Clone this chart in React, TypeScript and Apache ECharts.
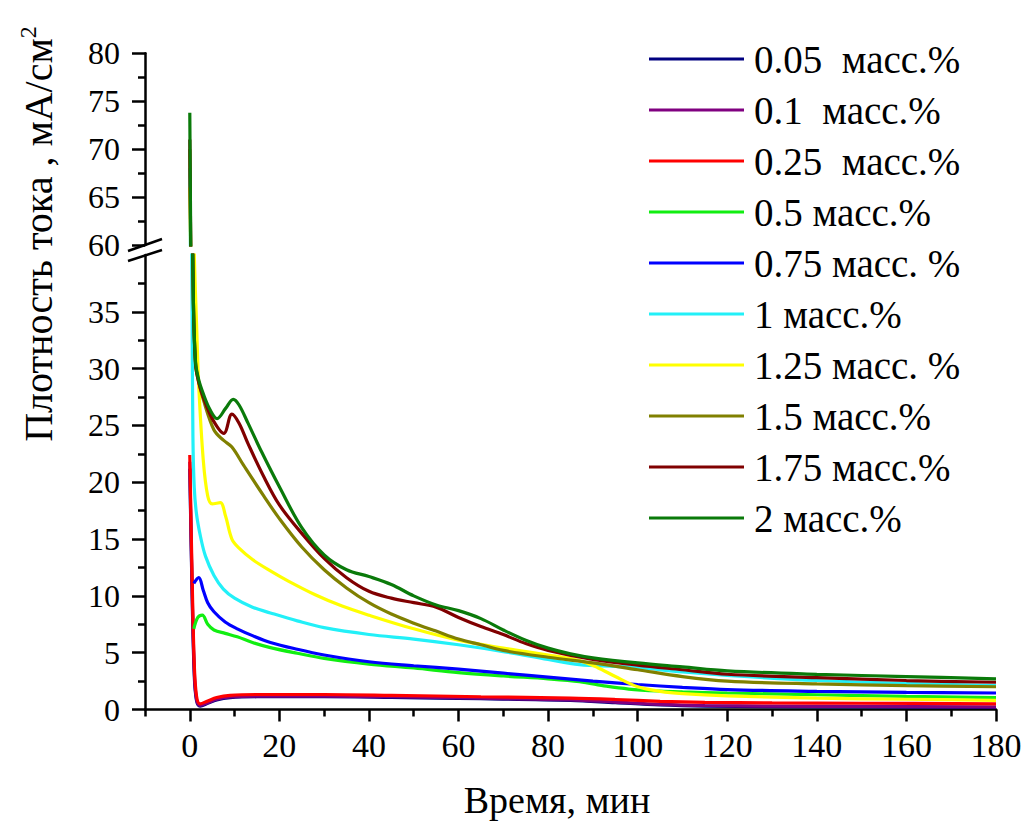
import React, { useEffect, useRef } from "react";
import * as echarts from "echarts";

// Series data: [time (min), current density (mA/cm2)]
const s005: number[][] = [[0,21.2],[0.5,10.5],[1,3],[1.5,0.8],[2.3,0.3],[4,0.55],[6,0.85],[9,1.05],[15,1.12],[30,1.12],[45,1.06],[65,0.95],[85,0.8],[95,0.6],[105,0.4],[115,0.3],[130,0.25],[150,0.22],[180,0.18]];
const s01: number[][] = [[0,21.8],[0.5,11],[1,3.5],[1.5,0.9],[2.3,0.35],[4,0.6],[6,0.9],[9,1.1],[15,1.18],[30,1.18],[45,1.12],[65,1.0],[85,0.85],[95,0.65],[105,0.45],[115,0.35],[130,0.3],[150,0.27],[180,0.22]];
const s025: number[][] = [[0,22.4],[0.5,12],[1,4],[1.5,1.2],[2.3,0.5],[4,0.75],[6,1.05],[9,1.25],[15,1.32],[30,1.32],[45,1.25],[65,1.12],[85,1.0],[95,0.88],[105,0.72],[115,0.63],[130,0.58],[150,0.55],[180,0.5]];
const s05: number[][] = [[0.9,7.1],[1.8,8.1],[2.8,8.3],[4,7.5],[5.4,7.0],[7.9,6.7],[10.6,6.4],[14,5.9],[18,5.45],[24,4.95],[30,4.5],[40,4.0],[50,3.65],[60,3.25],[70,2.95],[80,2.7],[87,2.45],[93,2.05],[98,1.8],[105,1.62],[110,1.55],[120,1.45],[140,1.3],[160,1.15],[180,1.05]];
const s075: number[][] = [[0.9,11.1],[2,11.6],[3,10.5],[4,9.4],[5.4,8.6],[7.9,7.7],[10.6,7.1],[14,6.5],[18,5.9],[24,5.3],[30,4.8],[40,4.2],[50,3.85],[60,3.55],[70,3.2],[80,2.85],[90,2.5],[100,2.2],[110,1.95],[120,1.75],[140,1.6],[160,1.5],[180,1.45]];
const s1: number[][] = [[0,68],[0.3,50],[0.5,36],[0.7,24],[1,19.5],[1.5,17.2],[2.4,15.2],[3.5,13.5],[5.4,11.8],[7.5,10.6],[10,9.8],[14,9.0],[18,8.5],[24,7.8],[30,7.2],[40,6.6],[50,6.2],[60,5.7],[70,5.1],[80,4.4],[87,3.95],[95,3.8],[100,3.7],[110,3.3],[120,3.0],[140,2.55],[160,2.3],[180,2.1]];
const s125: number[][] = [[0,66],[0.5,50],[1,40],[1.5,34],[2,28.5],[3,22],[4,18.8],[5,18.1],[6.8,18.2],[8,17],[9.4,15],[11,14.2],[14,13.2],[18,12.2],[22,11.3],[28,10.1],[34,9.1],[40,8.3],[50,7.1],[60,6.1],[70,5.4],[80,4.8],[87,4.3],[91,3.7],[95,2.9],[100,2.0],[105,1.6],[110,1.4],[120,1.2],[140,1.0],[160,0.9],[180,0.8]];
const s15: number[][] = [[0,70],[0.4,50],[0.8,36],[1.3,30.3],[2,28.8],[3,27.3],[5.4,24.6],[7.5,23.7],[9.4,23.1],[12,21.5],[16.5,18.8],[20,16.8],[25,14.3],[30,12.3],[35,10.7],[40,9.4],[45,8.4],[50,7.6],[55,6.9],[60,6.2],[65,5.7],[70,5.2],[80,4.6],[90,4.1],[100,3.5],[110,2.9],[120,2.5],[140,2.25],[160,2.1],[180,2.0]];
const s175: number[][] = [[0,71],[0.4,50],[0.8,36],[1.3,30.3],[2,28.8],[3,27.5],[5,25.6],[7.6,24.3],[9.4,26.0],[11,25.2],[13,23.4],[16.5,20.5],[20,18.0],[25,15.5],[30,13.3],[35,11.6],[40,10.4],[45,9.8],[50,9.4],[55,9.0],[60,8.1],[65,7.3],[70,6.6],[75,5.8],[80,5.2],[90,4.4],[100,3.9],[110,3.5],[120,3.1],[140,2.8],[160,2.55],[180,2.4]];
const s2: number[][] = [[0,73.8],[0.4,50],[0.8,36],[1.3,30.5],[2,29],[3,27.8],[4.5,26.4],[6.1,25.6],[8,26.5],[9.7,27.3],[11,26.8],[13,25.2],[16,22.7],[20,19.6],[25,16.0],[30,13.6],[35,12.3],[40,11.7],[45,11.0],[50,10.0],[55,9.2],[60,8.7],[65,8.0],[70,7.0],[75,6.1],[80,5.4],[85,4.9],[90,4.55],[100,4.1],[110,3.75],[120,3.4],[140,3.1],[160,2.9],[180,2.7]];

const seriesNames = ["0.05  масс.%", "0.1  масс.%", "0.25  масс.%", "0.5 масс.%", "0.75 масс. %", "1 масс.%", "1.25 масс. %", "1.5 масс.%", "1.75 масс.%", "2 масс.%"];
const seriesData = [s005, s01, s025, s05, s075, s1, s125, s15, s175, s2];
const seriesColors = ["#000080", "#800080", "#FF0000", "#11EE11", "#0000FF", "#22F0F8", "#FFFF00", "#808000", "#800000", "#0A7A0A"];

const xMajorTicks = [0, 20, 40, 60, 80, 100, 120, 140, 160, 180];
const xMinorTicks = [-10, 10, 30, 50, 70, 90, 110, 130, 150, 170];
const yLowerTicks = [0, 5, 10, 15, 20, 25, 30, 35];

const FONT = "'Liberation Serif', 'Times New Roman', serif";

export default function App() {
  const ref = useRef<HTMLDivElement>(null);
  useEffect(() => {
    if (!ref.current) return;
    const chart = echarts.init(ref.current, null, { renderer: "svg" });
    const axisLineStyle = { color: "#000", width: 2.5 };
    const series: any[] = [];
    seriesNames.forEach((name, i) => {
      const common = {
        type: "line",
        name,
        data: seriesData[i],
        symbol: "none",
        showSymbol: false,
        smooth: 0.35,
        lineStyle: { width: 3.2, color: seriesColors[i] },
        itemStyle: { color: seriesColors[i] },
        z: 2 + i,
      };
      series.push({ ...common, xAxisIndex: 0, yAxisIndex: 0 });
      series.push({ ...common, xAxisIndex: 2, yAxisIndex: 1 });
    });

    chart.setOption({
      animation: false,
      backgroundColor: "#fff",
      textStyle: { fontFamily: FONT },
      grid: [
        { left: 145, right: 29, top: 255, bottom: 119.5, containLabel: false },
        { left: 145, right: 29, top: 53.3, bottom: 584, containLabel: false },
      ],
      legend: {
        show: true,
        data: seriesNames,
        orient: "vertical",
        left: 649,
        top: 39,
        padding: 0,
        icon: "rect",
        itemWidth: 95,
        itemHeight: 3,
        itemGap: 11,
        selectedMode: false,
        textStyle: { fontFamily: FONT, fontSize: 39, color: "#000", lineHeight: 40, padding: [0, 0, 0, 5] },
      },
      xAxis: [
        {
          type: "value",
          gridIndex: 0,
          min: -10,
          max: 180,
          interval: 10,
          position: "bottom",
          axisLine: { show: true, onZero: false, lineStyle: axisLineStyle },
          axisTick: { show: true, length: 12, lineStyle: axisLineStyle, customValues: xMajorTicks },
          axisLabel: { show: true, customValues: xMajorTicks, fontFamily: FONT, fontSize: 34, color: "#000", margin: 19 },
          splitLine: { show: false },
        },
        {
          type: "value",
          gridIndex: 0,
          min: -10,
          max: 180,
          interval: 10,
          position: "bottom",
          axisLine: { show: false },
          axisTick: { show: true, length: 7, lineStyle: axisLineStyle, customValues: xMinorTicks },
          axisLabel: { show: false },
          splitLine: { show: false },
        },
        {
          type: "value",
          gridIndex: 1,
          min: -10,
          max: 180,
          interval: 10,
          show: false,
          splitLine: { show: false },
        },
      ],
      yAxis: [
        {
          type: "value",
          gridIndex: 0,
          min: 0,
          max: 40,
          interval: 5,
          axisLine: { show: true, onZero: false, lineStyle: axisLineStyle },
          axisTick: { show: true, length: 13, lineStyle: axisLineStyle, customValues: yLowerTicks },
          minorTick: { show: true, splitNumber: 2, length: 7, lineStyle: { color: "#000", width: 2.5 } },
          axisLabel: { show: true, customValues: yLowerTicks, fontFamily: FONT, fontSize: 32, color: "#000", margin: 25 },
          splitLine: { show: false },
          minorSplitLine: { show: false },
        },
        {
          type: "value",
          gridIndex: 1,
          min: 60,
          max: 80,
          interval: 5,
          axisLine: { show: true, onZero: false, lineStyle: axisLineStyle },
          axisTick: { show: true, length: 13, lineStyle: axisLineStyle },
          minorTick: { show: true, splitNumber: 2, length: 7, lineStyle: { color: "#000", width: 2.5 } },
          axisLabel: { show: true, fontFamily: FONT, fontSize: 32, color: "#000", margin: 25 },
          splitLine: { show: false },
          minorSplitLine: { show: false },
        },
      ],
      graphic: [
        {
          type: "line",
          shape: { x1: 128, y1: 251, x2: 162, y2: 239 },
          style: { stroke: "#000", lineWidth: 2.5 },
          z: 100,
        },
        {
          type: "line",
          shape: { x1: 128, y1: 261, x2: 162, y2: 250 },
          style: { stroke: "#000", lineWidth: 2.5 },
          z: 100,
        },
        {
          type: "text",
          x: 38,
          y: 234,
          rotation: Math.PI / 2,
          style: {
            text: "{a|Плотность тока , мА/см}{sup|2}",
            align: "center",
            verticalAlign: "middle",
            rich: {
              a: { fontFamily: FONT, fontSize: 40, lineHeight: 44, fill: "#000" },
              sup: { fontFamily: FONT, fontSize: 24, lineHeight: 24, verticalAlign: "top", fill: "#000" },
            },
          },
          z: 100,
        },
        {
          type: "text",
          x: 557,
          y: 800,
          style: {
            text: "Время, мин",
            fontFamily: FONT,
            fontSize: 38,
            fill: "#000",
            align: "center",
            verticalAlign: "middle",
          },
          z: 100,
        },
      ],
      series,
    });
    return () => chart.dispose();
  }, []);
  return (
    <div
      ref={ref}
      style={{ position: "absolute", left: 0, top: 0, width: 1025, height: 829 }}
    />
  );
}
